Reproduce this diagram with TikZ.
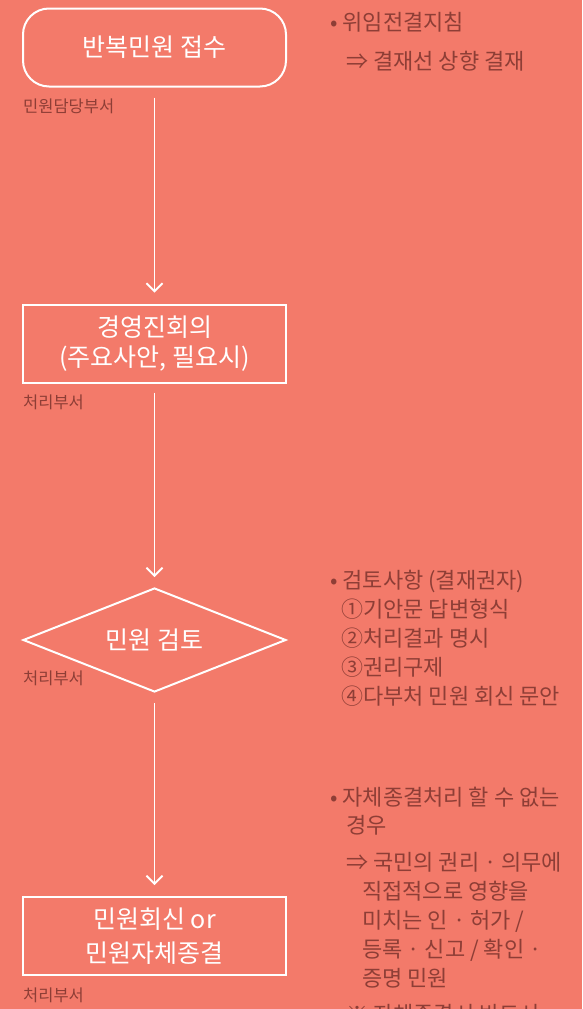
\documentclass[tikz,border=0pt]{standalone}
\usepackage{fontspec}
\setmainfont{Noto Sans CJK KR}
\usetikzlibrary{arrows.meta,shapes.geometric}
\definecolor{bg}{RGB}{243,122,106}
\definecolor{note}{RGB}{142,62,54}
\tikzset{
  flow/.style={draw=white,line width=2pt,text=white,font=\fontsize{25}{30}\selectfont,align=center,minimum width=263pt,inner sep=0pt},
  lbl/.style={anchor=base west,text=note,font=\fontsize{16.5}{18}\selectfont,inner sep=0pt},
  nt/.style={anchor=base west,text=note,font=\fontsize{22}{24}\selectfont,inner sep=0pt},
  conn/.style={draw=white,line width=1.8pt,-{Straight Barb[length=8pt,width=16pt,line width=1.8pt]}}
}
\begin{document}
\begin{tikzpicture}[x=1pt,y=-1pt]
\useasboundingbox (0,0) rectangle (582,1009);
\fill[bg] (0,0) rectangle (582,1009);
\clip (0,0) rectangle (582,1009);
% flow nodes
\node[flow,rounded corners=26pt,minimum height=78pt] (a) at (154.5,47.5) {반복민원 접수};
\node[flow,minimum height=78pt] (b) at (154.5,343.5) {경영진회의\\(주요사안, 필요시)};
\node[flow,diamond,aspect=2.53,minimum height=104pt] (c) at (154.5,640) {민원 검토};
\node[flow,minimum height=78pt,font=\fontsize{25}{34}\selectfont] (d) at (154.5,936) {민원회신 or\\민원자체종결};
% connectors
\draw[conn,shorten <=10pt,shorten >=11pt] (a.south) -- (b.north);
\draw[conn,shorten <=9pt,shorten >=10pt] (b.south) -- (c.north);
\draw[conn,shorten <=10pt,shorten >=11pt] (c.south) -- (d.north);
% department labels
\node[lbl] (la) at (23,112) {민원담당부서};
\node[lbl] (lb) at (23,408) {처리부서};
\node[lbl] (lc) at (23,684) {처리부서};
\node[lbl] (ld) at (23,1001) {처리부서};
% notes
\node[nt] (n1) at (330,30) {• 위임전결지침};
\node[nt] (n2) at (346,69) {⇒ 결재선 상향 결재};
\node[nt] (n3) at (330,588) {• 검토사항 (결재권자)};
\node[nt] (n4) at (341,617) {①기안문 답변형식};
\node[nt] (n5) at (341,646) {②처리결과 명시};
\node[nt] (n6) at (341,675) {③권리구제};
\node[nt] (n7) at (341,704) {④다부처 민원 회신 문안};
\node[nt] (n8) at (330,805) {• 자체종결처리 할 수 없는};
\node[nt] (n9) at (346,833) {경우};
\node[nt] (n10) at (346,870) {⇒ 국민의 권리 · 의무에};
\node[nt] (n11) at (362,899) {직접적으로 영향을};
\node[nt] (n12) at (362,928) {미치는 인 · 허가 /};
\node[nt] (n13) at (362,957) {등록 · 신고 / 확인 ·};
\node[nt] (n14) at (362,986) {증명 민원};
\node[nt] (n15) at (346,1022) {※ 자체종결시 반드시};
\end{tikzpicture}
\end{document}
